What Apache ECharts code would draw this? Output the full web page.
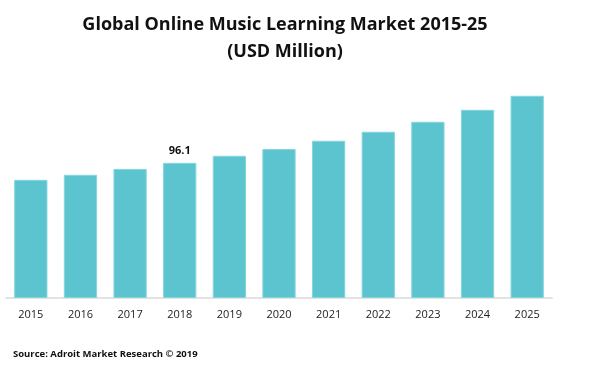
<!DOCTYPE html>
<html><head><meta charset="utf-8">
<script src="https://cdn.jsdelivr.net/npm/echarts@6/dist/echarts.min.js"></script>
<style>html,body{margin:0;padding:0;background:#fff}#c{width:610px;height:385px}</style>
</head><body><div id="c"></div>
<script>
const years = ['2015','2016','2017','2018','2019','2020','2021','2022','2023','2024','2025'];
const values = [84.0, 87.6, 91.8, 96.1, 101.1, 105.9, 111.8, 118.2, 125.3, 133.8, 143.8];
const labelledYear = '2018';
const titleText = 'Global Online Music Learning Market 2015-25\n(USD Million)';
const sourceText = 'Source: Adroit Market Research © 2019';

const chart = echarts.init(document.getElementById('c'));
chart.setOption({
  animation: false,
  title: [{
    text: titleText, left: 280, top: 6, textAlign: 'center',
    textStyle: {fontFamily: 'Open Sans', fontWeight: 'bold', fontSize: 18, lineHeight: 27, color: '#111'}
  }, {
    text: sourceText, left: 8, top: 344,
    textStyle: {fontFamily: 'Open Sans', fontWeight: 'bold', fontSize: 9.5, color: '#111'}
  }],
  grid: {left: 6, right: 58, top: 80, bottom: 87},
  xAxis: {
    type: 'category', data: years,
    axisLine: {lineStyle: {color: '#e3e3e3', width: 2}},
    axisTick: {show: false},
    axisLabel: {fontFamily: 'Open Sans', fontSize: 11, color: '#222', margin: 11}
  },
  yAxis: {type: 'value', min: 0, max: 155, show: false, splitLine: {show: false}},
  series: [{
    type: 'bar', barWidth: '67%',
    data: values.map((v, i) => ({
      value: v,
      label: {show: years[i] === labelledYear, position: 'top', distance: 6,
        fontFamily: 'Open Sans', fontWeight: 'bold', fontSize: 11, color: '#111'}
    })),
    itemStyle: {color: '#5cc4cf', borderColor: '#84d6de', borderWidth: 1}
  }]
});
</script></body></html>
